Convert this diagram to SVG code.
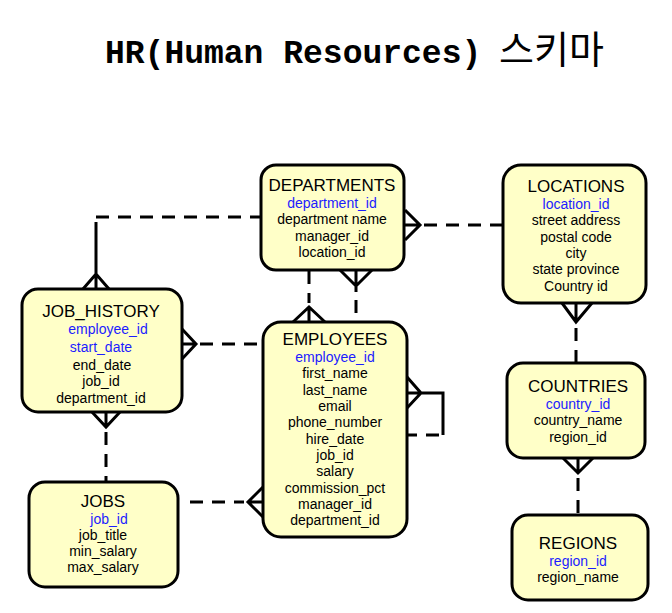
<svg xmlns="http://www.w3.org/2000/svg" width="672" height="613" viewBox="0 0 672 613">
<style>
.box{fill:#ffffc8;stroke:#000;stroke-width:3}
.t{font-family:"Liberation Sans",Arial,sans-serif;font-size:17px;fill:#000;text-anchor:middle}
.a{font-family:"Liberation Sans",Arial,sans-serif;font-size:14px;fill:#000;text-anchor:middle}
.k{fill:#1c1cff}
.solid{fill:none;stroke:#000;stroke-width:3}
.dash{fill:none;stroke:#000;stroke-width:3;stroke-dasharray:13 9}
</style>
<rect width="672" height="613" fill="#fff"/>
<text x="105" y="63" font-family="'Liberation Mono','Courier New',monospace" font-weight="bold" font-size="33" fill="#000">HR(Human Resources)</text>
<text x="499" y="63" font-family="'Noto Sans CJK KR',sans-serif" font-size="38" fill="#000">스키마</text>

<g id="connectors">
  <!-- DEPARTMENTS - JOB_HISTORY -->
  <path class="dash" d="M96,217 H261"/>
  <path class="solid" d="M96,222 V289 M83,289 L96,274 L109,289"/>
  <!-- DEPARTMENTS - LOCATIONS -->
  <path class="solid" d="M405,225 H420 M405,210 L420,225 L405,240"/>
  <path class="dash" d="M424,225 H503"/>
  <!-- DEPARTMENTS - EMPLOYEES (left) -->
  <path class="dash" d="M309,271 V303"/>
  <path class="solid" d="M309,307 V322 M293,322 L309,307 L325,322"/>
  <!-- DEPARTMENTS - EMPLOYEES (right) -->
  <path class="solid" d="M356,270 V292 M340,270 L356,286 L372,270"/>
  <path class="dash" d="M356,300 V322"/>
  <!-- JOB_HISTORY - EMPLOYEES -->
  <path class="solid" d="M182,344 H196 M182,329 L196,344 L182,359"/>
  <path class="dash" d="M200,344 H263"/>
  <!-- JOB_HISTORY - JOBS -->
  <path class="solid" d="M106,412 V427 M92,412 L106,427 L120,412"/>
  <path class="dash" d="M106,432 V482"/>
  <!-- JOBS - EMPLOYEES -->
  <path class="dash" d="M190,502 H244"/>
  <path class="solid" d="M248,502 H263 M263,487 L248,502 L263,517"/>
  <!-- EMPLOYEES self -->
  <path class="solid" d="M407,393 H443 V435 M407,377 L421,393 L407,408"/>
  <path class="dash" d="M439,435 H407"/>
  <!-- LOCATIONS - COUNTRIES -->
  <path class="solid" d="M576,303 V322 M562,303 L576,322 L592,303"/>
  <path class="dash" d="M576,328 V363"/>
  <!-- COUNTRIES - REGIONS -->
  <path class="solid" d="M578,458 V473 M563,458 L578,473 L593,458"/>
  <path class="dash" d="M578,478 V515"/>
</g>

<g id="departments">
  <rect class="box" x="261" y="165" width="143" height="105" rx="15"/>
  <text class="t" x="332" y="191">DEPARTMENTS</text>
  <text class="a k" x="332" y="208">department_id</text>
  <text class="a" x="332" y="224">department name</text>
  <text class="a" x="332" y="241">manager_id</text>
  <text class="a" x="332" y="257">location_id</text>
</g>

<g id="locations">
  <rect class="box" x="503" y="165" width="143" height="138" rx="18"/>
  <text class="t" x="576" y="192">LOCATIONS</text>
  <text class="a k" x="576" y="209">location_id</text>
  <text class="a" x="576" y="225">street address</text>
  <text class="a" x="576" y="242">postal code</text>
  <text class="a" x="576" y="258">city</text>
  <text class="a" x="576" y="274">state province</text>
  <text class="a" x="576" y="291">Country id</text>
</g>

<g id="job_history">
  <rect class="box" x="22" y="289" width="160" height="123" rx="16"/>
  <text class="t" x="101" y="317">JOB_HISTORY</text>
  <text class="a k" x="108" y="334">employee_id</text>
  <text class="a k" x="101" y="352">start_date</text>
  <text class="a" x="102" y="370">end_date</text>
  <text class="a" x="101" y="386">job_id</text>
  <text class="a" x="101" y="403">department_id</text>
</g>

<g id="employees">
  <rect class="box" x="263" y="322" width="144" height="215" rx="18"/>
  <text class="t" x="335" y="345">EMPLOYEES</text>
  <text class="a k" x="335" y="362">employee_id</text>
  <text class="a" x="335" y="378">first_name</text>
  <text class="a" x="335" y="395">last_name</text>
  <text class="a" x="335" y="411">email</text>
  <text class="a" x="335" y="427">phone_number</text>
  <text class="a" x="335" y="444">hire_date</text>
  <text class="a" x="335" y="460">job_id</text>
  <text class="a" x="335" y="476">salary</text>
  <text class="a" x="335" y="493">commission_pct</text>
  <text class="a" x="335" y="509">manager_id</text>
  <text class="a" x="335" y="525">department_id</text>
</g>

<g id="jobs">
  <rect class="box" x="29" y="482" width="149" height="105" rx="16"/>
  <text class="t" x="103" y="507">JOBS</text>
  <text class="a k" x="109" y="524">job_id</text>
  <text class="a" x="103" y="540">job_title</text>
  <text class="a" x="103" y="556">min_salary</text>
  <text class="a" x="103" y="572">max_salary</text>
</g>

<g id="countries">
  <rect class="box" x="507" y="363" width="138" height="95" rx="16"/>
  <text class="t" x="578" y="392">COUNTRIES</text>
  <text class="a k" x="578" y="409">country_id</text>
  <text class="a" x="578" y="425">country_name</text>
  <text class="a" x="578" y="442">region_id</text>
</g>

<g id="regions">
  <rect class="box" x="512" y="515" width="136" height="85" rx="16"/>
  <text class="t" x="578" y="549">REGIONS</text>
  <text class="a k" x="578" y="566">region_id</text>
  <text class="a" x="578" y="582">region_name</text>
</g>
</svg>
